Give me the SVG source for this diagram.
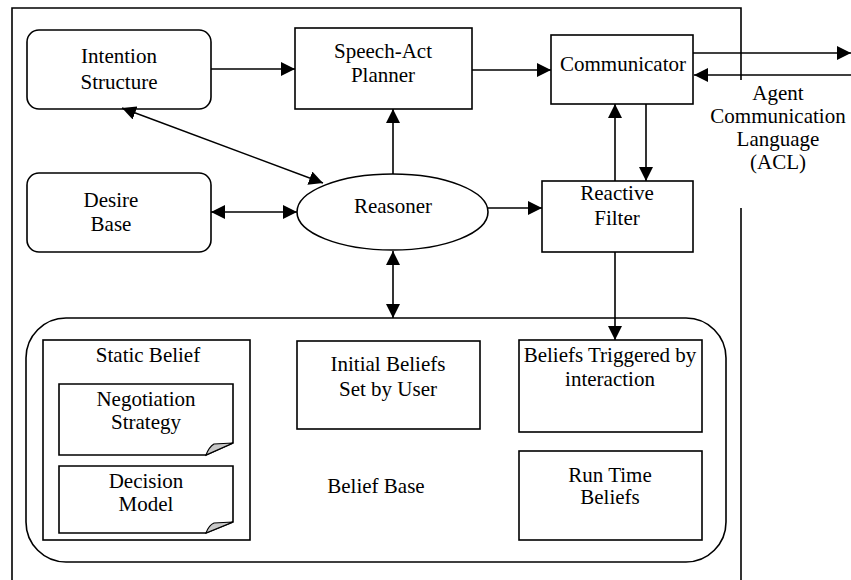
<svg xmlns="http://www.w3.org/2000/svg" width="851" height="580" viewBox="0 0 851 580">
<defs>
<style>
.b{fill:#fff;stroke:#000;stroke-width:1.6}
.t{font-family:"Liberation Serif","Times New Roman",serif;font-size:21px;fill:#000;text-anchor:middle}
.c{fill:none;stroke:#000;stroke-width:1.6}
.f{fill:#c8c8c8;stroke:#000;stroke-width:1.2}
</style>
<marker id="ah" markerUnits="userSpaceOnUse" markerWidth="14" markerHeight="14" refX="14" refY="7" orient="auto-start-reverse">
<path d="M0,0 L14,7 L0,14 Z" fill="#000"/>
</marker>
</defs>
<rect width="851" height="580" fill="#fff"/>
<g id="frame" class="c">
<path d="M12,580 V8 H741 V80"/>
<path d="M741,208 V580"/>
</g>
<g id="intention">
<rect class="b" x="27" y="30" width="184" height="79" rx="12"/>
<text class="t" x="119" y="63">Intention</text>
<text class="t" x="119" y="89">Structure</text>
</g>
<g id="speechact">
<rect class="b" x="295" y="28" width="177" height="81"/>
<text class="t" x="383" y="58">Speech-Act</text>
<text class="t" x="383" y="82">Planner</text>
</g>
<g id="communicator">
<rect class="b" x="551" y="35" width="142" height="69"/>
<text class="t" x="623" y="71">Communicator</text>
</g>
<g id="acl">
<text class="t" x="778" y="100">Agent</text>
<text class="t" x="778" y="123">Communication</text>
<text class="t" x="778" y="146">Language</text>
<text class="t" x="778" y="169">(ACL)</text>
</g>
<g id="desire">
<rect class="b" x="27" y="173" width="184" height="79" rx="12"/>
<text class="t" x="111" y="207">Desire</text>
<text class="t" x="111" y="231">Base</text>
</g>
<g id="reasoner">
<ellipse class="b" cx="392.5" cy="212" rx="95.5" ry="38"/>
<text class="t" x="393" y="213">Reasoner</text>
</g>
<g id="reactive">
<rect class="b" x="542" y="181" width="151" height="71"/>
<text class="t" x="617" y="200">Reactive</text>
<text class="t" x="617" y="225">Filter</text>
</g>
<g id="beliefbase">
<rect class="b" x="26" y="318" width="700" height="244" rx="40"/>
<text class="t" x="376" y="493">Belief Base</text>
</g>
<g id="staticbelief">
<rect class="b" x="43" y="340" width="207" height="200"/>
<text class="t" x="148" y="362">Static Belief</text>
</g>
<g id="negotiation">
<path class="b" d="M59,384 H233 V443 L206,455 H59 Z"/>
<path class="f" d="M206,455 Q209,447 214,444 L233,443 Z"/>
<text class="t" x="146" y="406">Negotiation</text>
<text class="t" x="146" y="429">Strategy</text>
</g>
<g id="decision">
<path class="b" d="M59,466 H233 V522 L206,533 H59 Z"/>
<path class="f" d="M206,533 Q209,525 214,523 L233,522 Z"/>
<text class="t" x="146" y="488">Decision</text>
<text class="t" x="146" y="511">Model</text>
</g>
<g id="initial">
<rect class="b" x="297" y="341" width="183" height="88"/>
<text class="t" x="388" y="371">Initial Beliefs</text>
<text class="t" x="388" y="396">Set by User</text>
</g>
<g id="triggered">
<rect class="b" x="519" y="340" width="183" height="92"/>
<text class="t" x="610" y="362">Beliefs Triggered by</text>
<text class="t" x="610" y="386">interaction</text>
</g>
<g id="runtime">
<rect class="b" x="519" y="451" width="183" height="89"/>
<text class="t" x="610" y="482">Run Time</text>
<text class="t" x="610" y="504">Beliefs</text>
</g>
<g id="connectors" class="c">
<line x1="211" y1="69" x2="295" y2="69" marker-end="url(#ah)"/>
<line x1="472" y1="70" x2="551" y2="70" marker-end="url(#ah)"/>
<line x1="693" y1="53" x2="851" y2="53" marker-end="url(#ah)"/>
<line x1="851" y1="75" x2="694" y2="75" marker-end="url(#ah)"/>
<line x1="122" y1="108" x2="323" y2="183" marker-start="url(#ah)" marker-end="url(#ah)"/>
<line x1="393" y1="174" x2="393" y2="109" marker-end="url(#ah)"/>
<line x1="211" y1="212" x2="297" y2="212" marker-start="url(#ah)" marker-end="url(#ah)"/>
<line x1="488" y1="208" x2="542" y2="208" marker-end="url(#ah)"/>
<line x1="615" y1="181" x2="615" y2="104" marker-end="url(#ah)"/>
<line x1="646" y1="104" x2="646" y2="181" marker-end="url(#ah)"/>
<line x1="393" y1="251" x2="393" y2="318" marker-start="url(#ah)" marker-end="url(#ah)"/>
<line x1="615" y1="252" x2="615" y2="340" marker-end="url(#ah)"/>
</g>
</svg>
